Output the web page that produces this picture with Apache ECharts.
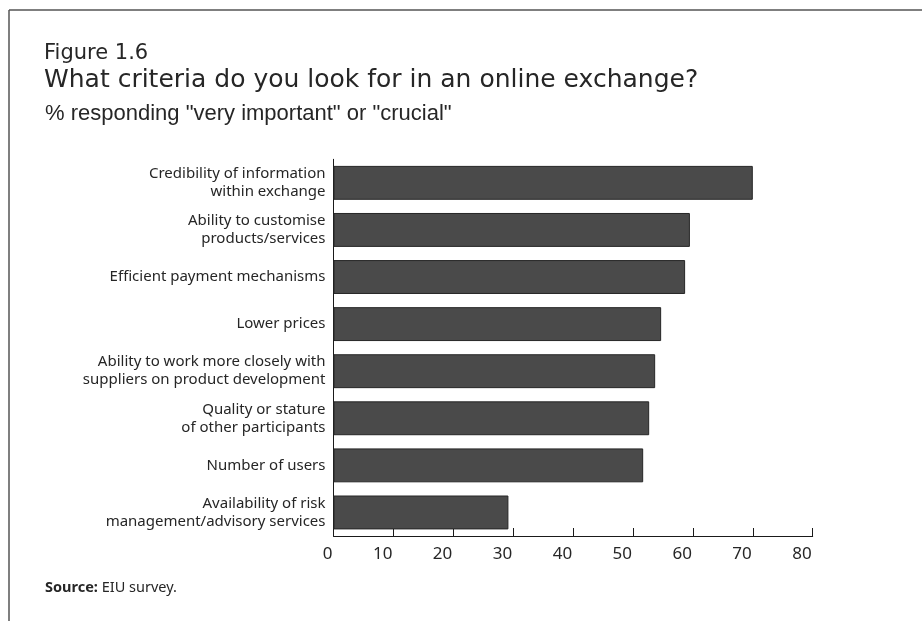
<!DOCTYPE html>
<html>
<head>
<meta charset="utf-8">
<style>
  html, body { margin: 0; padding: 0; background: #fff; }
  #chart { width: 922px; height: 621px; }
</style>
<script src="https://cdn.jsdelivr.net/npm/echarts@6/dist/echarts.min.js"></script>
</head>
<body>
<div id="chart"></div>
<script>
// Survey criteria, top to bottom
const categories = [
  'Credibility of information\nwithin exchange',
  'Ability to customise\nproducts/services',
  'Efficient payment mechanisms',
  'Lower prices',
  'Ability to work more closely with\nsuppliers on product development',
  'Quality or stature\nof other participants',
  'Number of users',
  'Availability of risk\nmanagement/advisory services'
];
// % responding "very important" or "crucial"
const values = [70, 59.5, 58.7, 54.7, 53.7, 52.7, 51.7, 29.2];
const axisTicks = [0, 10, 20, 30, 40, 50, 60, 70, 80];

const chart = echarts.init(document.getElementById('chart'), null, { renderer: 'canvas' });

const textColor = '#262626';
const labelFont = '"Noto Sans", "Open Sans", sans-serif';

chart.setOption({
  animation: false,
  backgroundColor: '#fff',
  title: [
    {
      text: 'Figure 1.6',
      left: 39, top: 38,
      textStyle: { fontFamily: '"DejaVu Sans", sans-serif', fontSize: 21, fontWeight: 'normal', color: textColor }
    },
    {
      text: 'What criteria do you look for in an online exchange?',
      left: 39, top: 63,
      textStyle: { fontFamily: '"DejaVu Sans", sans-serif', fontSize: 25, fontWeight: 'normal', color: textColor }
    },
    {
      text: '% responding "very important" or "crucial"',
      left: 40, top: 98,
      textStyle: { fontFamily: '"Liberation Sans", Arial, sans-serif', fontSize: 22, fontWeight: 'normal', color: textColor }
    },
    {
      text: '{b|Source:} EIU survey.',
      left: 40, top: 575,
      textStyle: {
        fontFamily: labelFont, fontSize: 14.5, fontWeight: 'normal', color: textColor,
        rich: { b: { fontFamily: labelFont, fontSize: 14.5, fontWeight: 'bold', color: textColor } }
      }
    }
  ],
  graphic: [
    // frame edges
    { type: 'line', shape: { x1: 9, y1: 10, x2: 922, y2: 10 }, style: { stroke: '#555', lineWidth: 1.5 } },
    { type: 'line', shape: { x1: 9, y1: 10, x2: 9, y2: 621 }, style: { stroke: '#555', lineWidth: 1.5 } }
  ],
  grid: { left: 333.5, right: 109.3, top: 159.3, bottom: 85, containLabel: false },
  xAxis: {
    type: 'value',
    min: axisTicks[0],
    max: axisTicks[axisTicks.length - 1],
    interval: axisTicks[1] - axisTicks[0],
    axisLine: { show: true, lineStyle: { color: '#1a1a1a', width: 1 } },
    axisTick: { show: true, inside: true, length: 8, lineStyle: { color: '#1a1a1a', width: 1 } },
    splitLine: { show: false },
    axisLabel: {
      align: 'right', margin: 10,
      fontFamily: labelFont, fontSize: 17, color: textColor,
      padding: [0, 1, 0, 0]
    }
  },
  yAxis: {
    type: 'category',
    inverse: true,
    data: categories,
    axisLine: { show: true, lineStyle: { color: '#1a1a1a', width: 1 } },
    axisTick: { show: false },
    axisLabel: {
      margin: 8, fontFamily: labelFont, fontSize: 15, lineHeight: 18, color: textColor, align: 'right'
    }
  },
  series: [{
    type: 'bar',
    data: values,
    barCategoryGap: '28%',
    itemStyle: { color: '#4a4a4a', borderColor: '#262626', borderWidth: 1 },
    silent: true
  }]
});
</script>
</body>
</html>
